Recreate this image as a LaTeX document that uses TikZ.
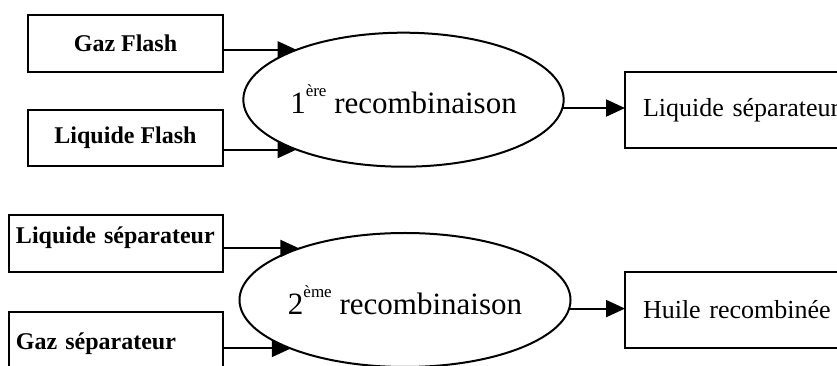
\documentclass[tikz,border=0pt]{standalone}
\usepackage{fontspec}
\setmainfont{Liberation Serif}
\usetikzlibrary{arrows.meta,shapes.geometric}
\newcommand{\expo}[1]{\raisebox{17pt}{\fontsize{17}{17}\selectfont #1}}
\begin{document}
\begin{tikzpicture}[x=1pt,y=1pt,
  box/.style={draw, line width=2pt, rectangle, outer sep=0pt, inner sep=0pt},
  srcbox/.style={box, minimum width=195pt, font=\bfseries\fontsize{24}{28}\selectfont},
  lbox/.style={box, minimum width=214pt, minimum height=57pt, text width=200pt,
    inner xsep=7pt, align=left, font=\bfseries\fontsize{24}{28}\selectfont},
  outbox/.style={box, minimum width=235pt, minimum height=76pt, text width=199pt,
    inner xsep=18pt, align=left, font=\fontsize{26}{30}\selectfont},
  recomb/.style={draw, line width=2pt, ellipse, outer sep=0pt, inner sep=0pt,
    minimum width=293pt, minimum height=134pt, font=\fontsize{31}{36}\selectfont},
  flow/.style={line width=2pt, -{Triangle[length=19pt,width=17pt]}}
]
\useasboundingbox (0,0) rectangle (837,366);
\clip (0,0) rectangle (837,366);

% first recombination
\node[srcbox, minimum height=57pt] (gf) at (125.5,322.5) {Gaz Flash};
\node[srcbox, minimum height=56pt] (lf) at (125.5,228) {Liquide Flash};
\node[recomb] (e1) at (403.5,266.3) {1\expo{ère} recombinaison};
\node[outbox] (ls1) at (742.5,256) {Liquide séparateur};

\draw[flow] (e1.155 -| gf.east) -- (e1.155);
\draw[flow] (e1.205 -| lf.east) -- (e1.205);
\draw[flow] (e1.-3) -- (e1.-3 -| ls1.west);

% second recombination
\node[lbox] (ls2) at (116,122.5) {\raisebox{6pt}[\height][\depth]{Liquide séparateur}};
\node[lbox] (gs) at (116,25.5) {\raisebox{-3pt}[\height][\depth]{Gaz séparateur}};
\node[recomb, minimum width=294pt] (e2) at (405,66) {2\expo{ème} recombinaison};
\node[outbox] (hr) at (742.5,56) {Huile recombinée};

\draw[flow] (e2.154 -| ls2.east) -- (e2.154);
\draw[flow] (e2.203 -| gs.east) -- (e2.203);
\draw[flow] (e2.-3) -- (e2.-3 -| hr.west);
\end{tikzpicture}
\end{document}
